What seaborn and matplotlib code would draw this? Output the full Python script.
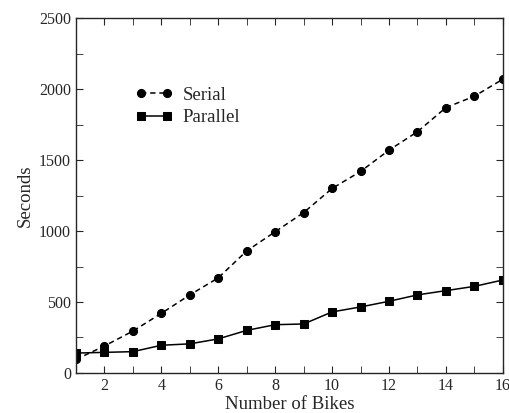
import numpy as np
import pandas as pd
import matplotlib
matplotlib.use("Agg")
import matplotlib.pyplot as plt
import seaborn as sns
from matplotlib.ticker import MultipleLocator

sns.set_style("ticks")
plt.rcParams['font.family'] = ['Liberation Serif', 'DejaVu Serif']

bikes = list(range(1, 17))
serial = [95, 190, 295, 420, 550, 670, 860, 995, 1130, 1300, 1420, 1570, 1700, 1870, 1950, 2070]
parallel = [140, 145, 150, 195, 205, 240, 300, 340, 345, 430, 465, 505, 550, 580, 610, 655]

df = pd.DataFrame({
    "bikes": bikes * 2,
    "seconds": serial + parallel,
    "mode": ["Serial"] * 16 + ["Parallel"] * 16,
})

fig = plt.figure(figsize=(5.1, 4.13), dpi=100)
ax = fig.add_axes([0.149, 0.097, 0.837, 0.859])

sns.lineplot(data=df, x="bikes", y="seconds", style="mode",
             markers={"Serial": "o", "Parallel": "s"},
             dashes={"Serial": (3.5, 2.5), "Parallel": ""},
             color="black", markersize=5.8, linewidth=1.1,
             markeredgecolor="black", ax=ax)

ax.set_xlim(1, 16)
ax.set_ylim(0, 2500)
ax.xaxis.set_major_locator(MultipleLocator(2))
ax.xaxis.set_minor_locator(MultipleLocator(1))
ax.yaxis.set_major_locator(MultipleLocator(500))
ax.yaxis.set_minor_locator(MultipleLocator(250))
ax.tick_params(which="both", direction="in", top=True, right=True, labelsize=11.5)
ax.tick_params(which="major", length=5)
ax.tick_params(which="minor", length=5)
for s in ax.spines.values():
    s.set_linewidth(1.0)

ax.set_xlabel("Number of Bikes", fontsize=13.5, labelpad=1.5)
ax.set_ylabel("Seconds", fontsize=13.5, labelpad=4)

leg = ax.legend(title=None, frameon=False, fontsize=13.5, loc="upper left",
                bbox_to_anchor=(0.1, 0.855), numpoints=2, handlelength=2.0,
                handletextpad=0.5, labelspacing=0.3)

fig.savefig("out.png", dpi=100)
